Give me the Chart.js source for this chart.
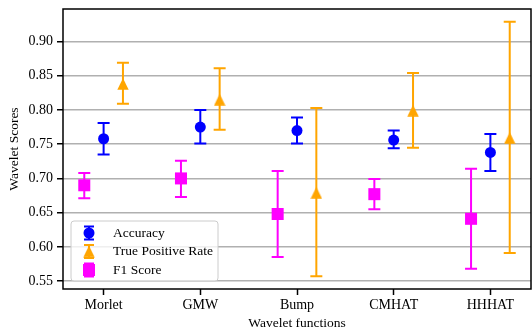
<!DOCTYPE html>
<html>
<head>
<meta charset="utf-8">
<script src="https://cdn.jsdelivr.net/npm/chart.js@4.4.0/dist/chart.umd.min.js"></script>
<style>
  html, body { margin: 0; padding: 0; background: #ffffff; }
  #wrap { width: 532px; height: 330px; }
</style>
</head>
<body>
<div id="wrap"><canvas id="c" width="532" height="330"></canvas></div>
<script>
// Wavelet functions compared on three scores (mean with error range)
const categories = ['Morlet', 'GMW', 'Bump', 'CMHAT', 'HHHAT'];

const accuracy     = [0.758, 0.775, 0.770, 0.756, 0.738];
const accuracyLow  = [0.735, 0.751, 0.751, 0.744, 0.711];
const accuracyHigh = [0.781, 0.800, 0.789, 0.770, 0.765];

const tpr     = [0.838, 0.815, 0.679, 0.799, 0.759];
const tprLow  = [0.809, 0.771, 0.557, 0.745, 0.591];
const tprHigh = [0.869, 0.861, 0.803, 0.854, 0.929];

const f1     = [0.690, 0.700, 0.648, 0.677, 0.641];
const f1Low  = [0.671, 0.673, 0.585, 0.655, 0.568];
const f1High = [0.708, 0.726, 0.711, 0.699, 0.714];

const yTicks = [0.55, 0.60, 0.65, 0.70, 0.75, 0.80, 0.85, 0.90];

// horizontal shift of each series inside a category group
const shift = { f1: -0.2, accuracy: 0, tpr: 0.2 };

const BLUE = '#0000ff', ORANGE = '#ffa500', MAGENTA = '#ff00ff';
const FONT = 'Liberation Serif, Times New Roman, serif';

Chart.defaults.font.family = FONT;
Chart.defaults.font.size = 13;
Chart.defaults.color = '#000000';

// triangle marker with its box centred on the point
function triangleMarker(size, color) {
  const cv = document.createElement('canvas');
  cv.width = size; cv.height = size;
  const g = cv.getContext('2d');
  g.fillStyle = color;
  g.beginPath();
  g.moveTo(size / 2, 0.3);
  g.lineTo(size - 0.3, size - 0.3);
  g.lineTo(0.3, size - 0.3);
  g.closePath();
  g.fill();
  return cv;
}
const tri = triangleMarker(12, ORANGE);

function points(values, dx) {
  return values.map((v, i) => ({ x: i + dx, y: v }));
}

const series = [
  { label: 'Accuracy', color: BLUE, values: accuracy, low: accuracyLow, high: accuracyHigh, dx: shift.accuracy, style: 'circle', radius: 5.5 },
  { label: 'True Positive Rate', color: ORANGE, values: tpr, low: tprLow, high: tprHigh, dx: shift.tpr, style: tri, radius: 6 },
  { label: 'F1 Score', color: MAGENTA, values: f1, low: f1Low, high: f1High, dx: shift.f1, style: 'rect', radius: 8.5 }
];

const datasets = series.map(s => ({
  label: s.label,
  data: points(s.values, s.dx),
  errLow: s.low,
  errHigh: s.high,
  pointStyle: s.style,
  pointRadius: s.radius,
  backgroundColor: s.color,
  borderColor: s.color,
  pointBorderWidth: 0,
  showLine: false
}));

// vertical error bars with caps, drawn beneath the markers
const errorBars = {
  id: 'errorBars',
  beforeDatasetsDraw(chart) {
    const { ctx, scales: { x, y } } = chart;
    ctx.save();
    ctx.lineWidth = 2;
    ctx.lineCap = 'butt';
    chart.data.datasets.forEach(ds => {
      ctx.strokeStyle = ds.borderColor;
      ds.data.forEach((p, i) => {
        const px = x.getPixelForValue(p.x);
        const yl = y.getPixelForValue(ds.errLow[i]);
        const yh = y.getPixelForValue(ds.errHigh[i]);
        ctx.beginPath();
        ctx.moveTo(px, yl); ctx.lineTo(px, yh);
        ctx.moveTo(px - 6, yl); ctx.lineTo(px + 6, yl);
        ctx.moveTo(px - 6, yh); ctx.lineTo(px + 6, yh);
        ctx.stroke();
      });
    });
    ctx.restore();
  }
};

// frame around the plot area and the legend box
const frameAndLegend = {
  id: 'frameAndLegend',
  afterDraw(chart) {
    const { ctx, chartArea: a } = chart;
    ctx.save();
    ctx.strokeStyle = '#000000';
    ctx.lineWidth = 1.5;
    ctx.strokeRect(a.left, a.top, a.right - a.left, a.bottom - a.top);

    // legend in the lower left corner of the plot
    const lx = a.left + 8, ly = a.bottom - 68, lw = 147, lh = 60, r = 3;
    ctx.beginPath();
    ctx.moveTo(lx + r, ly);
    ctx.arcTo(lx + lw, ly, lx + lw, ly + lh, r);
    ctx.arcTo(lx + lw, ly + lh, lx, ly + lh, r);
    ctx.arcTo(lx, ly + lh, lx, ly, r);
    ctx.arcTo(lx, ly, lx + lw, ly, r);
    ctx.closePath();
    ctx.fillStyle = 'rgba(255,255,255,0.8)';
    ctx.fill();
    ctx.strokeStyle = '#cccccc';
    ctx.lineWidth = 1;
    ctx.stroke();

    const mx = lx + 18;
    const rows = [ly + 12, ly + 30.5, ly + 49];
    series.forEach((s, k) => {
      const cy = rows[k];
      ctx.strokeStyle = s.color;
      ctx.fillStyle = s.color;
      ctx.lineWidth = 2;
      ctx.beginPath();
      ctx.moveTo(mx, cy - 6.5); ctx.lineTo(mx, cy + 6.5);
      ctx.moveTo(mx - 5, cy - 6.5); ctx.lineTo(mx + 5, cy - 6.5);
      ctx.moveTo(mx - 5, cy + 6.5); ctx.lineTo(mx + 5, cy + 6.5);
      ctx.stroke();
      if (s.style === 'circle') {
        ctx.beginPath(); ctx.arc(mx, cy, 5.5, 0, Math.PI * 2); ctx.fill();
      } else if (s.style === 'rect') {
        ctx.fillRect(mx - 6, cy - 6, 12, 12);
      } else {
        ctx.drawImage(s.style, mx - 6, cy - 6, 12, 12);
      }
      ctx.fillStyle = '#000000';
      ctx.font = '13.5px ' + FONT;
      ctx.textBaseline = 'middle';
      ctx.textAlign = 'left';
      ctx.fillText(s.label, lx + 42, cy);
    });
    ctx.restore();
  }
};

new Chart(document.getElementById('c'), {
  type: 'scatter',
  data: { datasets },
  options: {
    responsive: false,
    animation: false,
    devicePixelRatio: 1,
    layout: { autoPadding: false, padding: { top: 9, right: 1, left: 0, bottom: 0 } },
    plugins: { legend: { display: false }, tooltip: { enabled: false } },
    scales: {
      x: {
        type: 'linear',
        min: -0.42,
        max: 4.42,
        afterBuildTicks: axis => { axis.ticks = categories.map((c, i) => ({ value: i })); },
        afterFit: axis => { axis.height = 41; axis.paddingLeft = 0; axis.paddingRight = 0; },
        border: { display: false },
        grid: { drawOnChartArea: false, drawTicks: true, tickLength: 6, tickColor: '#000000', tickWidth: 1.5 },
        ticks: { padding: 2, maxRotation: 0, autoSkip: false, font: { size: 14 }, callback: v => categories[v] },
        title: { display: true, text: 'Wavelet functions', padding: 0, font: { size: 13.5, lineHeight: 1 } }
      },
      y: {
        min: 0.5384,
        max: 0.9476,
        afterBuildTicks: axis => { axis.ticks = yTicks.map(v => ({ value: v })); },
        afterFit: axis => { axis.width = 63; axis.paddingTop = 0; axis.paddingBottom = 0; },
        border: { display: false },
        grid: { color: '#b0b0b0', lineWidth: 1.5, drawTicks: true, tickLength: 6, tickColor: '#000000', tickWidth: 1.5 },
        ticks: { padding: 4, font: { size: 14 }, callback: v => v.toFixed(2) },
        title: { display: true, text: 'Wavelet Scores', padding: 7.5, font: { size: 13.5, lineHeight: 1 } }
      }
    }
  },
  plugins: [errorBars, frameAndLegend]
});
</script>
</body>
</html>
